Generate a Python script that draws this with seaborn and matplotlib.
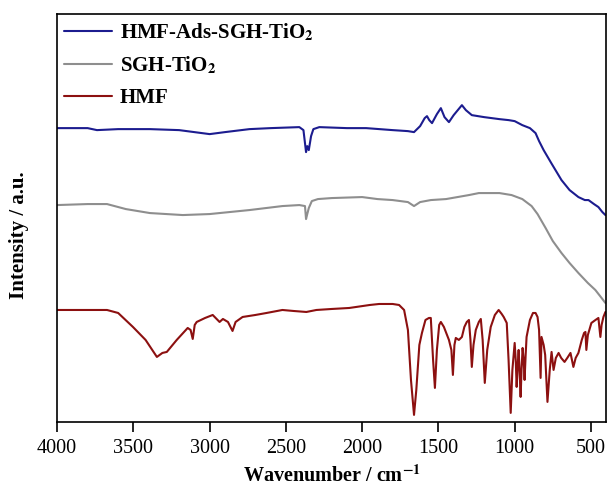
import numpy as np
import pandas as pd
import matplotlib
matplotlib.use("Agg")
import matplotlib.pyplot as plt
import seaborn as sns

# ---- data (wavenumber in cm^-1, intensity in arbitrary units, offset traces) ----
blue_wn = [4000, 3800, 3739, 3600, 3392, 3200, 3000, 2900, 2739, 2600, 2412, 2385, 2368, 2360, 2350, 2335,
           2320, 2281, 2100, 1974, 1800, 1700, 1660, 1620, 1590, 1575, 1560, 1542, 1510, 1484, 1460,
           1431, 1400, 1346, 1320, 1281, 1200, 1100, 1039, 1000, 950, 900, 863, 840, 810, 760, 693,
           640, 582, 540, 516, 480, 451, 425, 405]
blue_val = [322, 322, 320, 321, 321, 320, 316, 318, 321, 322, 323, 320, 298, 304, 300, 314,
            321, 323, 322, 322, 320, 319, 318, 324, 332, 334, 330, 327, 336, 342, 333,
            328, 335, 345, 340, 335, 333, 331, 330, 329, 325, 322, 317, 309, 300, 287, 270,
            260, 253, 250, 250, 246, 243, 238, 235]

gray_wn = [4000, 3800, 3673, 3550, 3392, 3176, 3000, 2739, 2523, 2412, 2375, 2368, 2360, 2350, 2330,
           2290, 2200, 2000, 1900, 1800, 1700, 1660, 1620, 1550, 1450, 1300, 1235, 1100, 1020, 950,
           889, 850, 797, 750, 693, 640, 582, 520, 471, 430, 405]
gray_val = [245, 246, 246, 241, 237, 235, 236, 240, 244, 245, 244, 231, 236, 242, 249,
            251, 252, 253, 251, 250, 248, 244, 248, 250, 251, 255, 257, 257, 255, 251,
            244, 236, 222, 209, 197, 187, 177, 167, 160, 152, 147]

red_wn = [4000, 3800, 3673, 3600, 3503, 3420, 3346, 3310, 3281, 3216, 3144, 3125, 3111, 3098, 3085,
          3030, 2980, 2935, 2913, 2880, 2850, 2830, 2784, 2700, 2627, 2523, 2450, 2366, 2300, 2200,
          2085, 1950, 1889, 1800, 1758, 1725, 1700, 1680, 1660, 1645, 1625, 1608, 1585, 1562, 1550,
          1535, 1523, 1510, 1495, 1484, 1464, 1431, 1415, 1405, 1395, 1386, 1366, 1346, 1330, 1314,
          1300, 1290, 1281, 1270, 1255, 1235, 1222, 1210, 1196, 1180, 1157, 1130, 1105, 1085, 1072,
          1052, 1040, 1026, 1015, 1000, 993, 987, 980, 974, 968, 961, 955, 948, 941, 935,
          928, 922, 900, 880, 863, 850, 840, 830, 824, 810, 800, 785, 770, 758, 745,
          730, 712, 695, 673, 655, 634, 615, 600, 582, 560, 545, 536, 530, 520, 497,
          470, 451, 438, 430, 418, 405]
red_y = [310, 310, 310, 313, 327, 340, 357, 353, 352, 340, 328, 330, 339, 325, 322,
         318, 315, 322, 319, 322, 331, 322, 317, 315, 313, 310, 311, 312, 310, 309,
         308, 305, 304, 304, 305, 310, 330, 380, 415, 390, 345, 333, 320, 318, 318,
         360, 388, 350, 325, 322, 327, 340, 350, 375, 345, 338, 340, 337, 327, 322,
         320, 340, 367, 345, 330, 322, 319, 340, 383, 350, 327, 315, 310, 314, 317,
         323, 360, 413, 370, 343, 360, 387, 365, 350, 370, 397, 370, 348, 360, 380,
         355, 337, 320, 313, 313, 317, 330, 378, 337, 345, 355, 402, 370, 352, 370,
         358, 353, 358, 362, 358, 353, 367, 358, 353, 340, 333, 332, 350, 335, 323,
         320, 318, 337, 325, 317, 312]
red_val = [450 - v for v in red_y]

series_names = ["HMF-Ads-SGH-TiO$_\\mathbf{2}$", "SGH-TiO$_\\mathbf{2}$", "HMF"]
colors = ["#1c1c8f", "#8e8e8e", "#8c1010"]
x_ticks = [4000, 3500, 3000, 2500, 2000, 1500, 1000, 500]

# ---- build long table ----
frames = []
for name, wn, val in zip(series_names, [blue_wn, gray_wn, red_wn], [blue_val, gray_val, red_val]):
    frames.append(pd.DataFrame({"wn": wn, "val": val, "series": name}))
df = pd.concat(frames, ignore_index=True)

sns.set_style("ticks")
plt.rcParams["font.family"] = ["Liberation Serif", "DejaVu Serif"]
plt.rcParams["mathtext.fontset"] = "stix"
plt.rcParams["text.color"] = "black"
plt.rcParams["axes.labelcolor"] = "black"
plt.rcParams["xtick.color"] = "black"
plt.rcParams["ytick.color"] = "black"
plt.rcParams["axes.edgecolor"] = "black"

fig = plt.figure(figsize=(6.08, 4.90), dpi=100)
ax = fig.add_axes([0.094, 0.139, 0.903, 0.832])

sns.lineplot(data=df, x="wn", y="val", hue="series", hue_order=series_names,
             palette=dict(zip(series_names, colors)), sort=False, estimator=None,
             units="series", linewidth=1.5, ax=ax)

ax.set_xlim(4000, 400)
ax.set_ylim(28, 436)
ax.set_xticks(x_ticks)
ax.set_xticklabels([str(t) for t in x_ticks], fontsize=14.5, color="black")
ax.set_yticks([])
ax.tick_params(axis="x", direction="out", length=7, width=1.2, colors="black", pad=5.5)
for s in ax.spines.values():
    s.set_visible(True)
    s.set_linewidth(1.2)
    s.set_color("black")

ax.set_xlabel("Wavenumber / cm$^{\\mathbf{-1}}$", fontsize=14.5, fontweight="bold",
              labelpad=5, color="black")
ax.set_ylabel("Intensity / a.u.", fontsize=15, fontweight="bold", color="black")
ax.yaxis.set_label_coords(-0.052, 0.458)

leg = ax.legend(loc="upper left", bbox_to_anchor=(0.0, 1.0), frameon=False,
                borderaxespad=0.05, handlelength=2.3, labelspacing=0.55,
                prop={"family": "Liberation Serif", "weight": "bold", "size": 15},
                borderpad=0.3, handletextpad=0.35, labelcolor="black")

fig.savefig("out.png", dpi=100)
